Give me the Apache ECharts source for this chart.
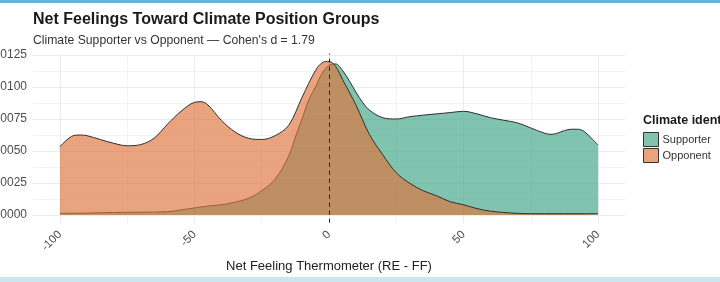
<!DOCTYPE html>
<html><head><meta charset="utf-8">
<script src="https://cdn.jsdelivr.net/npm/echarts@6/dist/echarts.min.js"></script>
<style>html,body{margin:0;padding:0;background:#fff}#c{width:720px;height:282px}</style>
</head><body><div id="c"></div>
<script>
const titleText = 'Net Feelings Toward Climate Position Groups';
const subtitleText = "Climate Supporter vs Opponent — Cohen's d = 1.79";
const xAxisTitle = 'Net Feeling Thermometer (RE - FF)';
const legendTitle = 'Climate identity';
const groups = ['Supporter', 'Opponent'];
const xTicks = [-100, -50, 0, 50, 100];
const xMinor = [-75, -25, 25, 75];
const yTicks = [0, 0.0025, 0.005, 0.0075, 0.01, 0.0125];
const yMinor = [0.00125, 0.00375, 0.00625, 0.00875, 0.01125];

const oppX = [-100,-95,-92.5,-90,-85,-80,-75,-70,-65,-60,-55,-50,-47.5,-45,-40,-35,-30,-25,-20,-15,-10,-5,-2.5,0,2.5,5,10,15,20,25,30,35,40,45,50,55,60,65,70,75,80,85,90,95,100];
const oppY = [0.00534,0.0062,0.00625,0.0062,0.0059,0.0056,0.00541,0.0055,0.0060,0.0071,0.0081,0.0088,0.00885,0.0086,0.0074,0.0065,0.0060,0.0059,0.0062,0.0070,0.0092,0.0113,0.0119,0.0120,0.0116,0.0106,0.0086,0.0063,0.0047,0.0033,0.00248,0.0019,0.0015,0.00104,0.0008,0.0005,0.0003,0.0002,0.00013,0.0001,0.0001,0.0001,0.0001,0.0001,0.0001];

const supX = [-100,-90,-80,-70,-60,-55,-50,-45,-40,-35,-30,-25,-20,-15,-12.5,-10,-7.5,-5,-2.5,0,2.5,5,7.5,10,12.5,15,20,25,30,35,40,45,50,55,60,65,70,75,80,82.5,85,87.5,90,92.5,95,97.5,100];
const supY = [0.00013,0.00015,0.0002,0.00022,0.00026,0.0004,0.00055,0.0007,0.0008,0.001,0.0013,0.0019,0.0028,0.0046,0.0061,0.0075,0.009,0.0100,0.0111,0.0117,0.0118,0.0113,0.0105,0.0096,0.0088,0.0082,0.0076,0.0075,0.00768,0.0078,0.0079,0.0080,0.0081,0.0079,0.0076,0.0074,0.0072,0.0068,0.0064,0.0063,0.0064,0.0066,0.0067,0.0067,0.0065,0.0060,0.00547];

const oppFill = 'rgb(221,115,58)';
const supFill = 'rgb(60,164,134)';
const fillOpacity = 0.65;

const chart = echarts.init(document.getElementById('c'), null, {renderer: 'canvas'});
const zip = (xs, ys) => xs.map((x, i) => [x, ys[i]]);
const gridLeft = 33, gridTop = 53.7, gridW = 592, gridH = 169;
const font = 'Liberation Sans';

chart.setOption({
  backgroundColor: '#fff',
  animation: false,
  title: [
    {text: titleText, left: 33, top: 12, padding: 0,
     textStyle: {fontFamily: font, fontSize: 16, fontWeight: 'bold', color: '#1a1a1a'}},
    {text: subtitleText, left: 33, top: 35, padding: 0,
     textStyle: {fontFamily: font, fontSize: 12.2, fontWeight: 'normal', color: '#333'}}
  ],
  grid: {left: gridLeft, top: gridTop, width: gridW, height: gridH, containLabel: false, outerBoundsMode: 'none'},
  xAxis: [
    {
      type: 'value', min: -110, max: 110,
      name: xAxisTitle, nameLocation: 'middle', nameGap: 32,
      nameTextStyle: {fontFamily: font, fontSize: 13, color: '#222'},
      axisLine: {show: false}, axisTick: {show: false, customValues: xTicks},
      axisLabel: {customValues: xTicks, rotate: 45, margin: 10, color: '#4d4d4d',
                  fontFamily: font, fontSize: 11.5},
      splitLine: {show: true, lineStyle: {color: '#ebebeb', width: 1}}
    },
    {
      type: 'value', min: -110, max: 110, position: 'bottom',
      axisLine: {show: false}, axisTick: {show: false, customValues: xMinor},
      axisLabel: {show: false},
      splitLine: {show: true, lineStyle: {color: '#f3f3f3', width: 1}}
    }
  ],
  yAxis: [
    {
      type: 'value', min: -0.0006, max: 0.0126,
      axisLine: {show: false}, axisTick: {show: false, customValues: yTicks},
      axisLabel: {customValues: yTicks, margin: 6, color: '#4d4d4d',
                  fontFamily: font, fontSize: 12,
                  formatter: v => v.toFixed(4)},
      splitLine: {show: true, lineStyle: {color: '#ebebeb', width: 1}}
    },
    {
      type: 'value', min: -0.0006, max: 0.0126, position: 'left',
      axisLine: {show: false}, axisTick: {show: false, customValues: yMinor},
      axisLabel: {show: false},
      splitLine: {show: true, lineStyle: {color: '#f3f3f3', width: 1}}
    }
  ],
  legend: {
    orient: 'vertical', left: 643, top: 132, itemWidth: 15, itemHeight: 14, itemGap: 1,
    icon: 'rect', padding: 0,
    textStyle: {fontFamily: font, fontSize: 11, color: '#333', padding: [0,0,0,-1]},
    data: [
      {name: groups[0], itemStyle: {color: 'rgb(128,196,176)', borderColor: '#333', borderWidth: 1}},
      {name: groups[1], itemStyle: {color: 'rgb(233,164,127)', borderColor: '#333', borderWidth: 1}}
    ]
  },
  graphic: [
    {type: 'rect', shape: {x: 0, y: 0, width: 720, height: 3}, style: {fill: '#6ab3d8'}, silent: true},
    {type: 'rect', shape: {x: 0, y: 277, width: 720, height: 5}, style: {fill: '#cbe7ee'}, silent: true},
    {type: 'text', left: 643, top: 114, style: {text: legendTitle, fontFamily: font, fontSize: 12.5, fontWeight: 'bold', fill: '#1a1a1a'}}
  ],
  series: [
    {
      type: 'line', name: groups[0], data: zip(supX, supY), smooth: 0.35, showSymbol: false, symbol: 'none', z: 2,
      itemStyle: {color: 'rgb(128,196,176)'},
      lineStyle: {color: '#2f2f2f', width: 1},
      areaStyle: {color: supFill, opacity: fillOpacity}
    },
    {
      type: 'line', name: groups[1], data: zip(oppX, oppY), smooth: 0.35, showSymbol: false, symbol: 'none', z: 3,
      itemStyle: {color: 'rgb(233,164,127)'},
      lineStyle: {color: '#2f2f2f', width: 1},
      areaStyle: {color: oppFill, opacity: fillOpacity},
      markLine: {silent: true, symbol: 'none', label: {show: false},
        lineStyle: {color: '#222', width: 1, type: [4, 4]},
        data: [{xAxis: 0}]}
    }
  ]
});
</script></body></html>
